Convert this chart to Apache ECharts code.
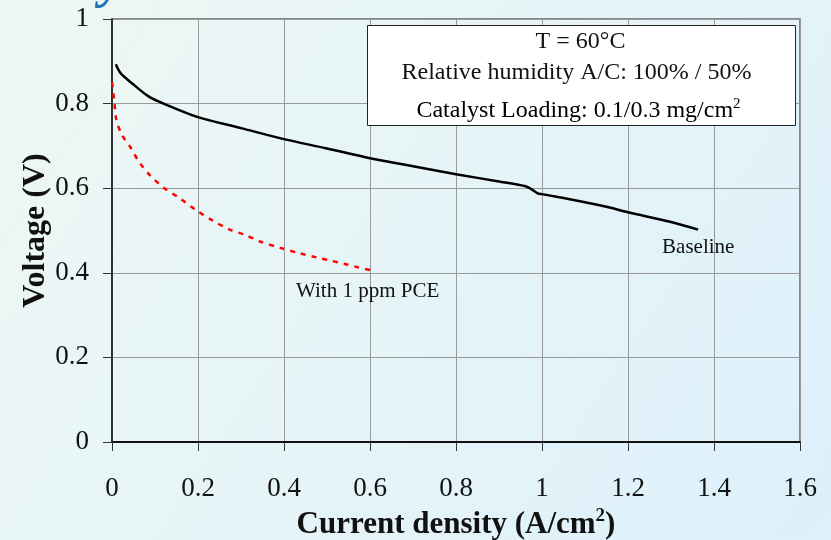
<!DOCTYPE html>
<html>
<head>
<meta charset="utf-8">
<script src="https://cdn.jsdelivr.net/npm/echarts@6/dist/echarts.min.js"></script>
<style>
  html, body { margin: 0; padding: 0; }
  #chart { width: 831px; height: 540px; }
</style>
</head>
<body>
<div id="chart"></div>
<script>
// Polarization curves: cell voltage vs current density
const xTicks = [0, 0.2, 0.4, 0.6, 0.8, 1, 1.2, 1.4, 1.6];
const yTicks = [0, 0.2, 0.4, 0.6, 0.8, 1];

const baselineCurrent = [0.009, 0.02, 0.05, 0.085, 0.12, 0.2, 0.3, 0.4, 0.5, 0.6, 0.7, 0.8, 0.9, 0.96, 0.975, 0.99, 1.0, 1.1, 1.15, 1.2, 1.3, 1.363];
const baselineVoltage = [0.893, 0.872, 0.845, 0.817, 0.800, 0.768, 0.742, 0.716, 0.694, 0.671, 0.652, 0.633, 0.616, 0.605, 0.598, 0.588, 0.586, 0.567, 0.556, 0.543, 0.520, 0.502];

const pceCurrent = [0.0, 0.005, 0.01, 0.023, 0.042, 0.063, 0.088, 0.119, 0.158, 0.193, 0.233, 0.274, 0.309, 0.344, 0.391, 0.437, 0.477, 0.507, 0.542, 0.572, 0.607];
const pceVoltage = [0.85, 0.81, 0.762, 0.726, 0.698, 0.662, 0.631, 0.602, 0.576, 0.55, 0.524, 0.502, 0.49, 0.474, 0.459, 0.446, 0.436, 0.429, 0.421, 0.413, 0.405];

const infoLines = ['T = 60°C', 'Relative humidity A/C: 100% / 50%', 'Catalyst Loading: 0.1/0.3 mg/cm'];

const serif = '"Liberation Serif", "DejaVu Serif", serif';

function pairs(xs, ys) {
  return xs.map((x, i) => [x, ys[i]]);
}

const chart = echarts.init(document.getElementById('chart'));

chart.setOption({
  backgroundColor: new echarts.graphic.LinearGradient(0, 0, 1, 1, [
    { offset: 0, color: '#eef8f4' },
    { offset: 1, color: '#ddf0fb' }
  ]),
  animation: false,
  grid: {
    left: 112, right: 31, top: 19, bottom: 98,
    containLabel: false, outerBoundsMode: 'none',
    show: true, borderColor: '#666', borderWidth: 1.5, backgroundColor: 'transparent'
  },
  xAxis: {
    type: 'value',
    min: xTicks[0], max: xTicks[xTicks.length - 1], interval: 0.2,
    name: '{b|Current density (A/cm}{sup|2}{b|)}',
    nameLocation: 'middle', nameGap: 65, nameMoveOverlap: false,
    nameTextStyle: {
      rich: {
        b: { fontFamily: serif, fontWeight: 'bold', fontSize: 31, color: '#111' },
        sup: { fontFamily: serif, fontWeight: 'bold', fontSize: 19, color: '#111', verticalAlign: 'top', padding: [0, 0, 16, 0] }
      }
    },
    axisLine: { onZero: false, lineStyle: { color: '#111', width: 2 } },
    axisTick: { show: true, length: 9, lineStyle: { color: '#333', width: 1 } },
    axisLabel: { fontFamily: serif, fontSize: 27, color: '#111', margin: 33 },
    splitLine: { show: true, lineStyle: { color: '#999', width: 1 } }
  },
  yAxis: {
    type: 'value',
    min: yTicks[0], max: yTicks[yTicks.length - 1], interval: 0.2,
    name: 'Voltage (V)',
    nameLocation: 'middle', nameGap: 60, nameMoveOverlap: false,
    nameTextStyle: { fontFamily: serif, fontWeight: 'bold', fontSize: 32, color: '#111' },
    axisLine: { show: true, onZero: false, lineStyle: { color: '#111', width: 1.5 } },
    axisTick: { show: true, length: 9, lineStyle: { color: '#333', width: 1 } },
    axisLabel: { fontFamily: serif, fontSize: 27, color: '#111', margin: 23 },
    splitLine: { show: true, lineStyle: { color: '#999', width: 1 } }
  },
  series: [
    {
      name: 'Baseline',
      type: 'line',
      data: pairs(baselineCurrent, baselineVoltage),
      showSymbol: false,
      smooth: 0.3,
      lineStyle: { color: '#000', width: 2.5 },
      endLabel: {
        show: true, formatter: 'Baseline', fontFamily: serif, fontSize: 21, color: '#111',
        offset: [-44, 18]
      },
      z: 3
    },
    {
      name: 'With 1 ppm PCE',
      type: 'line',
      data: pairs(pceCurrent, pceVoltage),
      showSymbol: false,
      smooth: 0.3,
      lineStyle: { color: '#ff0000', width: 2.5, type: [5, 6] },
      endLabel: {
        show: true, formatter: 'With 1 ppm PCE', fontFamily: serif, fontSize: 21, color: '#111',
        offset: [-85, 21]
      },
      z: 3
    }
  ],
  graphic: [
    {
      type: 'text',
      left: 100, top: -42, z: 50,
      style: { text: 'y', fontFamily: serif, fontStyle: 'italic', fontWeight: 'bold', fontSize: 52, fill: '#1a72b8' }
    },
    {
      type: 'group',
      left: 367, top: 25, z: 100,
      children: [
        {
          type: 'rect', z: 100,
          shape: { x: 0, y: 0, width: 428, height: 100 },
          style: { fill: '#ffffff', stroke: '#222', lineWidth: 1 }
        },
        {
          type: 'text', x: 213, y: 16, z: 101,
          style: { text: infoLines[0], fontFamily: serif, fontSize: 24, fill: '#111', align: 'center', verticalAlign: 'middle' }
        },
        {
          type: 'text', x: 209, y: 47, z: 101,
          style: { text: infoLines[1], fontFamily: serif, fontSize: 24, fill: '#111', align: 'center', verticalAlign: 'middle' }
        },
        {
          type: 'text', x: 211, y: 85, z: 101,
          style: {
            text: '{t|' + infoLines[2] + '}{s|2}',
            align: 'center', verticalAlign: 'middle',
            rich: {
              t: { fontFamily: serif, fontSize: 24, color: '#111' },
              s: { fontFamily: serif, fontSize: 15, color: '#111', verticalAlign: 'top', padding: [0, 0, 12, 0] }
            }
          }
        }
      ]
    }
  ]
});
</script>
</body>
</html>
